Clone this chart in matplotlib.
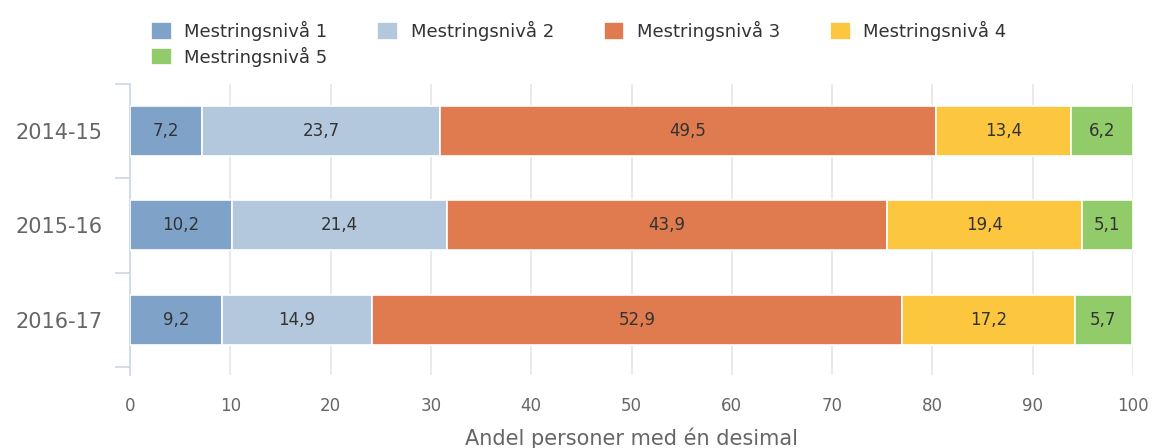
import numpy as np
import matplotlib
matplotlib.use('Agg')
import matplotlib.pyplot as plt

# data
years = ['2014-15', '2015-16', '2016-17']
levels = ['Mestringsnivå 1', 'Mestringsnivå 2', 'Mestringsnivå 3',
          'Mestringsnivå 4', 'Mestringsnivå 5']
niva1 = [7.2, 10.2, 9.2]
niva2 = [23.7, 21.4, 14.9]
niva3 = [49.5, 43.9, 52.9]
niva4 = [13.4, 19.4, 17.2]
niva5 = [6.2, 5.1, 5.7]
colors = ['#7fa3c8', '#b3c8dd', '#e07b4f', '#fcc63f', '#92cc6a']
x_ticks = [0, 10, 20, 30, 40, 50, 60, 70, 80, 90, 100]
x_label = 'Andel personer med én desimal'

W, H = 1154, 448
fig = plt.figure(figsize=(W / 100, H / 100), dpi=100)
ax = fig.add_axes([130 / W, (H - 375) / H, (1133 - 130) / W, (375 - 84) / H])

y = np.arange(len(years))
series = [niva1, niva2, niva3, niva4, niva5]
left = np.zeros(len(years))
handles = []
for vals, col, lab in zip(series, colors, levels):
    vals = np.array(vals)
    bars = ax.barh(y, vals, left=left, height=0.53, color=col,
                   edgecolor='white', linewidth=1.2, label=lab, zorder=3)
    handles.append(bars)
    for yi, v, l in zip(y, vals, left):
        ax.text(l + v / 2, yi, f'{v:.1f}'.replace('.', ','), ha='center',
                va='center', fontsize=12, color='#333333', zorder=4)
    left += vals

ax.set_xlim(0, 100)
ax.set_ylim(2.5 + 8 / 94, -0.5)

# grid and axes
ax.set_xticks(x_ticks)
ax.set_xticklabels([str(t) for t in x_ticks])
ax.grid(axis='x', color='#e6e6e6', linewidth=1.2, zorder=0)
for s in ['top', 'right', 'bottom']:
    ax.spines[s].set_visible(False)
ax.spines['left'].set_color('#ccd6eb')
ax.spines['left'].set_linewidth(1.2)
ax.tick_params(axis='x', length=0, pad=16, labelsize=12, labelcolor='#666666')
ax.set_yticks(y)
ax.set_yticklabels(years)
ax.tick_params(axis='y', length=0, pad=20, labelsize=15, labelcolor='#666666')
ax.set_yticks([-0.5, 0.5, 1.5, 2.5], minor=True)
ax.tick_params(axis='y', which='minor', length=11, width=1.2, color='#ccd6eb')
ax.set_xlabel(x_label, fontsize=15, color='#666666', labelpad=9)

# legend: row 1 levels 1-4, row 2 level 5
order = [0, 4, 1, 2, 3]
leg = fig.legend([handles[i] for i in order], [levels[i] for i in order],
                 ncol=4, loc='upper left', bbox_to_anchor=(151 / W, 1 - 21 / H),
                 frameon=False, fontsize=13, handlelength=1.15, handleheight=1.1,
                 handletextpad=0.7, columnspacing=2.75, labelspacing=0.32,
                 borderpad=0, borderaxespad=0)
for t in leg.get_texts():
    t.set_color('#333333')

# clipped title above the picture
fig.text(258 / W, 1 + 9 / H, 'g', fontsize=20, ha='center', va='baseline',
         color='black')

fig.savefig('out.png', dpi=100)
